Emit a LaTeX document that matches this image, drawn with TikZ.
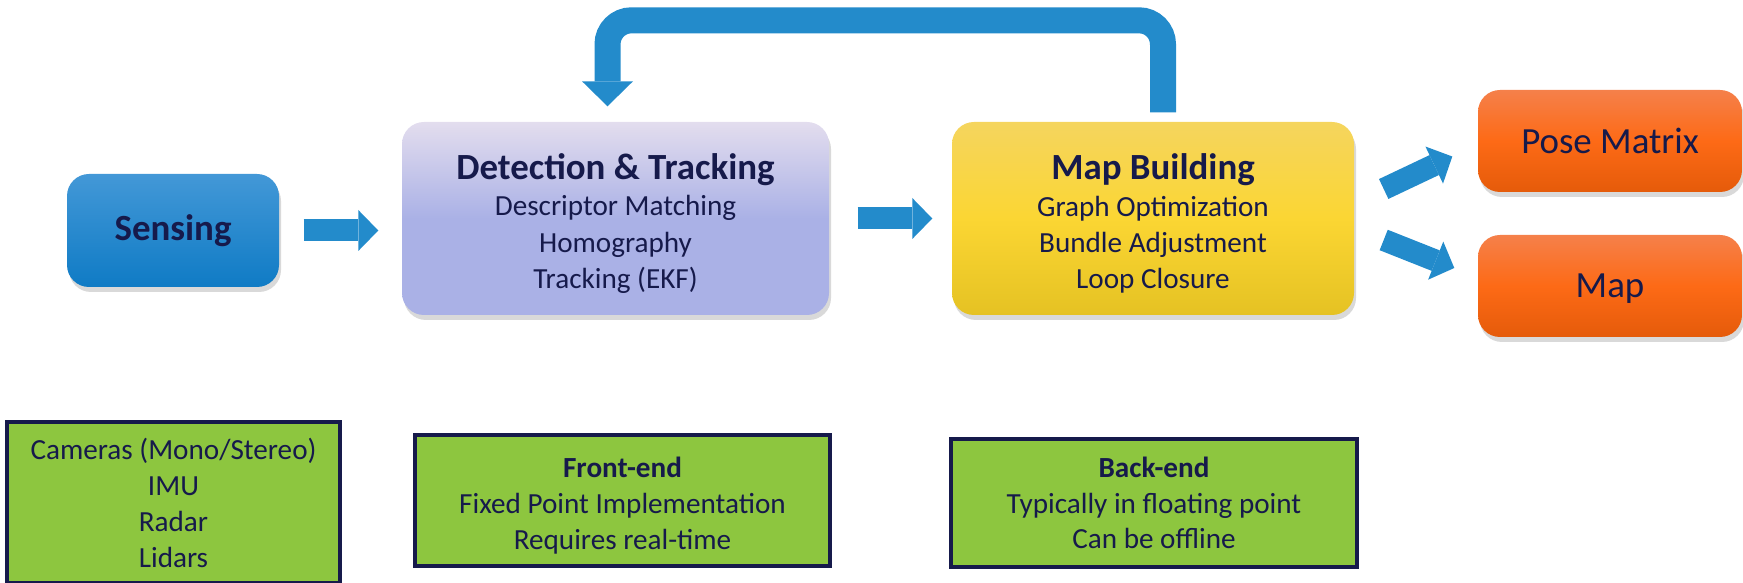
\documentclass[tikz,border=0pt]{standalone}
\usepackage{fontspec}
\setmainfont{Carlito}
\usepackage{tikz}
\usetikzlibrary{arrows.meta, shadows, calc}
\definecolor{inktext}{HTML}{161A4B}
\definecolor{flowblue}{HTML}{238BCB}
\definecolor{senstop}{HTML}{4398D7}
\definecolor{sensbot}{HTML}{0F7BC5}
\definecolor{trktop}{HTML}{E3DDEE}
\definecolor{trkmid}{HTML}{AAB1E6}
\definecolor{maptop}{HTML}{F5D55E}
\definecolor{mapmid}{HTML}{FBD633}
\definecolor{mapbot}{HTML}{E5C223}
\definecolor{outtop}{HTML}{F5804A}
\definecolor{outmid}{HTML}{FD6A16}
\definecolor{outbot}{HTML}{E55B0A}
\definecolor{notegreen}{HTML}{8DC63F}
\newcommand{\headfont}{\fontsize{10.5}{12.6}\selectfont\bfseries}
\newcommand{\headstrut}[1]{\rule{0pt}{#1}}

\begin{document}
\begin{tikzpicture}[
    stagebox/.style={rounded corners=0.22cm, align=center, text=inktext,
      font=\fontsize{8.3}{10.35}\selectfont,
      drop shadow={shadow xshift=0.02cm, shadow yshift=-0.05cm, opacity=0.3}},
    outbox/.style={stagebox, top color=outtop, bottom color=outbot, middle color=outmid,
      minimum width=2.64cm, minimum height=1.02cm, text depth=0pt,
      font=\fontsize{10.5}{12.6}\selectfont},
    notebox/.style={draw=inktext, line width=0.04cm, fill=notegreen, align=center,
      text=inktext, font=\fontsize{8.3}{10.2}\selectfont},
    flow/.style={flowblue, line width=0.22cm,
      -{Triangle[width=0.41cm, length=0.2cm, line width=0pt]}},
    loopback/.style={flowblue, line width=0.26cm, rounded corners=0.24cm,
      -{Triangle[width=0.51cm, length=0.25cm, line width=0pt]}}
  ]
    \useasboundingbox (0,0) rectangle (17.43,5.83);

    \node[stagebox, top color=senstop, bottom color=sensbot,
      minimum width=2.12cm, minimum height=1.13cm] (sense) at (1.73,3.525) {\headfont Sensing};
    \node[stagebox, top color=trktop, bottom color=trkmid, middle color=trkmid,
      minimum width=4.27cm, minimum height=1.93cm] (dt) at (6.155,3.645)
      {{\headfont\headstrut{10.3pt}Detection \& Tracking}\\ Descriptor Matching\\ Homography\\ Tracking (EKF)};
    \node[stagebox, top color=maptop, bottom color=mapbot, middle color=mapmid,
      minimum width=4.02cm, minimum height=1.93cm] (mb) at (11.53,3.645)
      {{\headfont\headstrut{10.3pt}Map Building}\\ Graph Optimization\\ Bundle Adjustment\\ Loop Closure};
    \node[outbox] (pose) at (16.10,4.42) {Pose Matrix};
    \node[outbox] (mapout) at (16.10,2.97) {Map};

    \draw[flow, shorten <=0.24cm, shorten >=0.23cm] (sense.east) -- (sense.east -| dt.west);
    \draw[flow, shorten <=0.28cm, shorten >=0.19cm] (dt) -- (mb);
    \draw[loopback, shorten <=0.09cm, shorten >=0.15cm]
      ([xshift=0.1cm]mb.north) -- ++(0,1.01) -| ([xshift=-0.08cm]dt.north);

    \coordinate (poseTail) at ($(mb.east)+(0.29,0.295)$);
    \coordinate (poseTip) at ($(pose.west)+(-0.25,-0.155)$);
    \coordinate (mapTail) at ($(mb.east)+(0.29,-0.215)$);
    \coordinate (mapTip) at ($(mapout.west)+(-0.23,0.18)$);
    \draw[flow] (poseTail) -- (poseTip);
    \draw[flow] (mapTail) -- (mapTip);

    \node[notebox, minimum width=3.33cm, minimum height=1.61cm] (sensors) at (1.735,0.80)
      {Cameras (Mono/Stereo)\\ IMU\\ Radar\\ Lidars};
    \node[notebox, minimum width=4.15cm, minimum height=1.25cm] (front) at (6.225,0.825)
      {\textbf{\headstrut{8.6pt}Front-end}\\ Fixed Point Implementation\\ Requires real-time};
    \node[notebox, minimum width=4.06cm, minimum height=1.28cm] (back) at (11.54,0.80)
      {\textbf{Back-end}\\ Typically in floating point\\ Can be offline};
  \end{tikzpicture}
\end{document}
